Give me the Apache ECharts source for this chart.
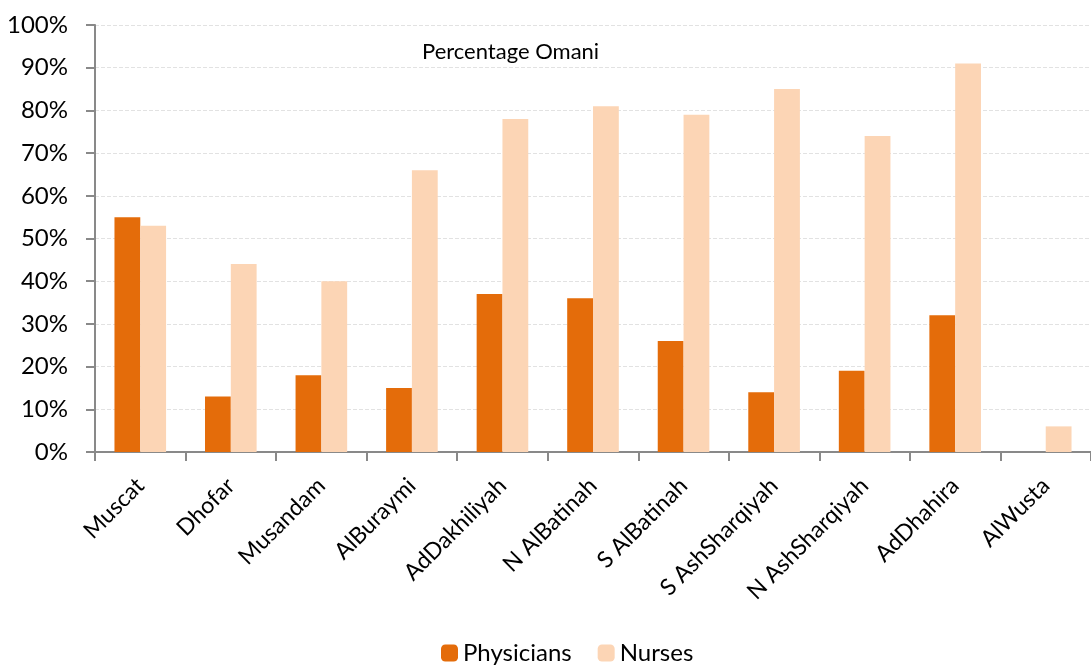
<!DOCTYPE html>
<html><head><meta charset="utf-8">
<script src="https://cdn.jsdelivr.net/npm/echarts@6/dist/echarts.min.js"></script>
<style>html,body{margin:0;padding:0;background:#fff}#c{width:1091px;height:665px}</style>
</head><body><div id="c"></div>
<script>
const categories = ["Muscat","Dhofar","Musandam","AlBuraymi","AdDakhiliyah","N AlBatinah","S AlBatinah","S AshSharqiyah","N AshSharqiyah","AdDhahira","AlWusta"];
const physicians = [55,13,18,15,37,36,26,14,19,32,0];
const nurses = [53,44,40,66,78,81,79,85,74,91,6];
const seriesNames = ["Physicians","Nurses"];
const titleText = "Percentage Omani";
const FONT = "Lato";
const chart = echarts.init(document.getElementById('c'));
chart.setOption({
  animation:false,
  title:{text:titleText,left:417,top:36,textStyle:{fontFamily:FONT,fontSize:22,fontWeight:'normal',color:'#000'}},
  legend:{top:641,left:441,itemWidth:17,itemHeight:17,itemGap:26,padding:0,
    textStyle:{fontFamily:FONT,fontSize:24,color:'#000'},data:seriesNames},
  grid:{left:95,right:-8,top:25,bottom:213,containLabel:false},
  xAxis:{type:'category',data:categories,
    axisLine:{lineStyle:{color:'#898989',width:2}},
    axisTick:{show:true,length:9,lineStyle:{color:'#898989',width:2}},
    axisLabel:{rotate:45,fontFamily:FONT,fontSize:23,color:'#000',margin:30,interval:0}},
  yAxis:{type:'value',min:0,max:100,interval:10,
    axisLine:{show:true,lineStyle:{color:'#898989',width:2}},
    axisTick:{show:true,inside:false,length:9,lineStyle:{color:'#898989',width:2}},
    splitLine:{lineStyle:{color:'#e2e2e2',type:[4,2]}},
    axisLabel:{formatter:'{value}%',fontFamily:FONT,fontSize:24,color:'#000',margin:27}},
  series:[
    {name:seriesNames[0],type:'bar',data:physicians,barGap:'0%',barCategoryGap:'43%',itemStyle:{color:'#E46C0A'}},
    {name:seriesNames[1],type:'bar',data:nurses,barGap:'0%',barCategoryGap:'43%',itemStyle:{color:'#FCD5B5'}}
  ]
});
</script></body></html>
